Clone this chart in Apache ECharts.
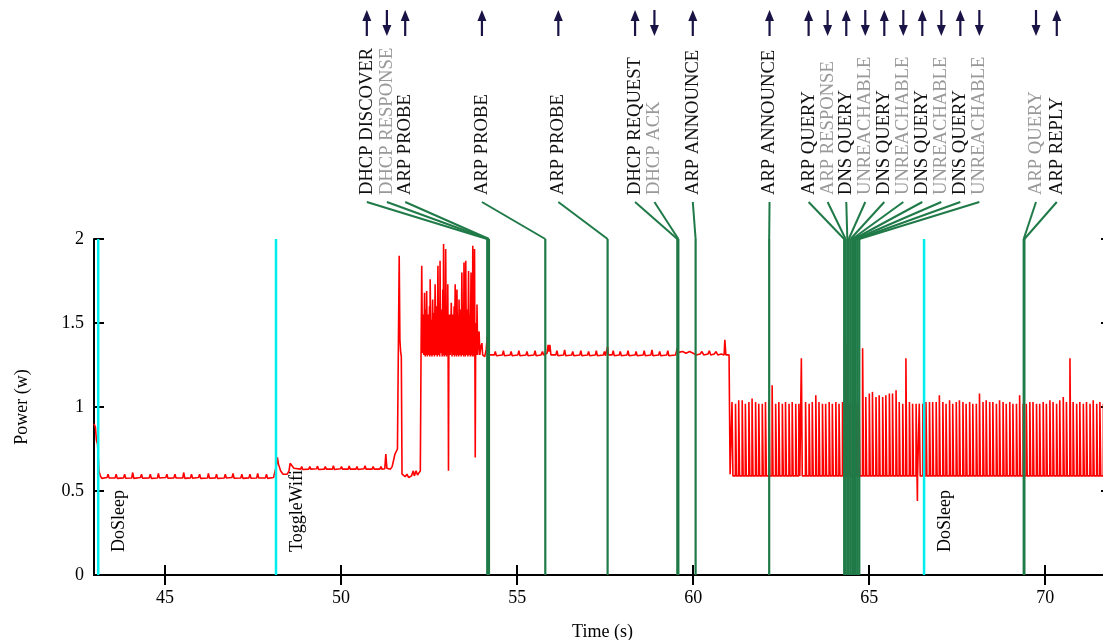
<!DOCTYPE html>
<html><head><meta charset="utf-8">
<script src="https://cdn.jsdelivr.net/npm/echarts@6/dist/echarts.min.js"></script>
<style>html,body{margin:0;padding:0;background:#fff}#c{width:1103px;height:640px}</style>
</head><body><div id="c"></div>
<script>
const xTicks = [45, 50, 55, 60, 65, 70];
const yTicks = [0, 0.5, 1, 1.5, 2];

const markerTimes = [43.10, 48.15, 66.56];
const markerNames = ['DoSleep', 'ToggleWifi', 'DoSleep'];

const eventTimes = [54.15, 54.18, 54.20, 55.80, 57.57, 59.55, 59.58, 60.07, 62.16,
  64.29, 64.33, 64.38, 64.42, 64.47, 64.52, 64.57, 64.62, 64.67, 64.72, 69.39, 69.41];
const eventNames = ['DHCP DISCOVER', 'DHCP RESPONSE', 'ARP PROBE', 'ARP PROBE', 'ARP PROBE',
  'DHCP REQUEST', 'DHCP ACK', 'ARP ANNOUNCE', 'ARP ANNOUNCE',
  'ARP QUERY', 'ARP RESPONSE', 'DNS QUERY', 'UNREACHABLE', 'DNS QUERY', 'UNREACHABLE',
  'DNS QUERY', 'UNREACHABLE', 'DNS QUERY', 'UNREACHABLE', 'ARP QUERY', 'ARP REPLY'];
const eventDirs = ['up', 'down', 'up', 'up', 'up', 'up', 'down', 'up', 'up',
  'up', 'down', 'up', 'down', 'up', 'down', 'up', 'down', 'up', 'down', 'down', 'up'];
const eventSlots = [50.73, 51.30, 51.82, 54.00, 56.17, 58.35, 58.90, 59.99, 62.17,
  63.28, 63.82, 64.35, 64.89, 65.43, 65.97, 66.51, 67.05, 67.59, 68.13, 69.74, 70.33];

const powerTrace = [
 [42.98,0.90],[43.02,0.88],[43.05,0.80],[43.08,0.78],[43.12,0.62],[43.16,0.59],[43.2,0.575],
 [43.35,0.58],[43.38,0.60],[43.41,0.577],[43.58,0.578],[43.61,0.60],[43.64,0.575],
 [43.82,0.578],[43.85,0.60],[43.88,0.576],[44.05,0.577],[44.08,0.61],[44.11,0.575],
 [44.3,0.58],[44.33,0.60],[44.36,0.576],[44.55,0.578],[44.58,0.60],[44.61,0.575],
 [44.78,0.577],[44.81,0.605],[44.84,0.577],[45.02,0.58],[45.05,0.60],[45.08,0.576],
 [45.25,0.578],[45.28,0.60],[45.31,0.577],[45.5,0.577],[45.53,0.61],[45.56,0.575],
 [45.72,0.578],[45.75,0.60],[45.78,0.576],[45.95,0.58],[45.98,0.60],[46.01,0.575],
 [46.2,0.577],[46.23,0.605],[46.26,0.576],[46.43,0.578],[46.46,0.60],[46.49,0.575],
 [46.68,0.577],[46.71,0.60],[46.74,0.577],[46.9,0.58],[46.93,0.605],[46.96,0.576],
 [47.15,0.577],[47.18,0.60],[47.21,0.575],[47.38,0.578],[47.41,0.60],[47.44,0.576],
 [47.6,0.577],[47.63,0.605],[47.66,0.577],[47.85,0.578],[47.88,0.60],[47.91,0.575],
 [48.08,0.58],[48.13,0.59],[48.17,0.66],[48.19,0.70],[48.22,0.66],[48.28,0.62],[48.35,0.60],
 [48.4,0.61],[48.47,0.60],[48.52,0.62],[48.55,0.665],[48.6,0.655],[48.66,0.635],
 [48.85,0.63],[48.88,0.645],[48.91,0.628],[49.08,0.63],[49.11,0.645],[49.14,0.63],
 [49.3,0.632],[49.33,0.648],[49.36,0.628],[49.52,0.63],[49.55,0.645],[49.58,0.63],
 [49.75,0.63],[49.78,0.65],[49.81,0.628],[49.98,0.632],[50.01,0.645],[50.04,0.63],
 [50.2,0.63],[50.23,0.648],[50.26,0.63],[50.42,0.63],[50.45,0.645],[50.48,0.628],
 [50.65,0.632],[50.68,0.65],[50.71,0.63],[50.88,0.63],[50.91,0.645],[50.94,0.63],
 [51.1,0.63],[51.13,0.645],[51.16,0.63],[51.24,0.632],[51.27,0.72],[51.3,0.635],[51.4,0.63],
 [51.45,0.645],[51.5,0.64],[51.53,0.72],[51.6,0.75],[51.63,0.76],[51.65,1.90],[51.67,1.40],
 [51.69,1.33],[51.71,1.30],[51.73,0.60],[51.77,0.59],[51.82,0.585],[51.87,0.60],[51.92,0.58],
 [52.0,0.59],[52.05,0.62],[52.08,0.59],[52.13,0.62],[52.17,0.595],[52.22,0.60],[52.25,0.62],
 [52.27,1.30],[52.29,1.84],[52.31,1.32],[52.33,1.55],[52.35,1.31],[52.37,1.68],[52.39,1.30],
 [52.41,1.58],[52.42,1.31],[52.43,1.69],[52.45,1.30],[52.47,1.55],[52.49,1.31],[52.51,1.60],
 [52.52,1.30],[52.53,1.76],[52.55,1.31],[52.57,1.52],[52.58,1.30],[52.60,1.64],[52.62,1.31],
 [52.64,1.56],[52.65,1.30],[52.67,1.73],[52.69,1.31],[52.71,1.60],[52.73,1.30],[52.75,1.84],
 [52.77,1.31],[52.79,1.62],[52.80,1.30],[52.81,1.87],[52.83,1.32],[52.85,1.58],[52.87,1.30],
 [52.89,1.70],[52.90,1.31],[52.91,1.97],[52.93,1.30],[52.95,1.62],[52.96,1.31],[52.97,1.94],
 [52.99,1.30],[53.01,1.60],[53.02,1.31],[53.03,1.73],[53.04,1.30],[53.05,0.62],[53.06,1.30],
 [53.08,1.55],[53.10,1.31],[53.13,1.62],[53.15,1.30],[53.17,1.55],[53.19,1.31],[53.21,1.60],
 [53.22,1.30],[53.24,1.73],[53.26,1.31],[53.27,1.56],[53.28,1.30],[53.29,1.70],[53.31,1.31],
 [53.33,1.55],[53.34,1.30],[53.35,1.64],[53.37,1.31],[53.39,1.58],[53.41,1.30],[53.43,1.80],
 [53.45,1.31],[53.47,1.60],[53.48,1.30],[53.49,1.86],[53.51,1.31],[53.52,1.62],[53.53,1.30],
 [53.54,1.87],[53.56,1.31],[53.58,1.58],[53.60,1.30],[53.62,1.81],[53.64,1.31],[53.66,1.55],
 [53.67,1.30],[53.69,1.80],[53.71,1.31],[53.72,1.60],[53.73,1.30],[53.74,1.96],[53.76,1.31],
 [53.77,1.62],[53.78,1.30],[53.79,1.94],[53.80,1.31],[53.81,0.70],[53.82,1.30],[53.84,1.50],
 [53.85,1.31],[53.86,1.61],[53.88,1.31],[53.90,1.40],[53.92,1.45],[53.94,1.31],[53.97,1.36],
 [54.00,1.38],[54.02,1.31],[54.05,1.32],[54.08,1.30],[54.12,1.34],[54.15,1.42],[54.17,1.31],
 [54.35,1.31],[54.38,1.33],[54.41,1.305],[54.58,1.31],[54.61,1.335],[54.64,1.305],
 [54.8,1.31],[54.83,1.33],[54.86,1.305],[55.02,1.31],[55.05,1.335],[55.08,1.305],
 [55.25,1.31],[55.28,1.33],[55.31,1.305],[55.48,1.31],[55.51,1.335],[55.54,1.305],
 [55.68,1.31],[55.72,1.33],[55.75,1.31],[55.85,1.32],[55.88,1.37],[55.9,1.33],[55.93,1.37],
 [55.96,1.31],[56.1,1.31],[56.13,1.335],[56.16,1.305],[56.32,1.31],[56.35,1.34],[56.38,1.305],
 [56.55,1.31],[56.58,1.33],[56.61,1.305],[56.78,1.31],[56.81,1.335],[56.84,1.305],
 [57.0,1.31],[57.03,1.33],[57.06,1.305],[57.22,1.31],[57.25,1.335],[57.28,1.305],
 [57.45,1.31],[57.48,1.33],[57.51,1.305],[57.55,1.31],[57.57,1.36],[57.59,1.31],
 [57.7,1.31],[57.73,1.335],[57.76,1.305],[57.9,1.31],[57.93,1.33],[57.96,1.305],
 [58.12,1.31],[58.15,1.335],[58.18,1.305],[58.35,1.31],[58.38,1.33],[58.41,1.305],
 [58.58,1.31],[58.61,1.335],[58.64,1.305],[58.8,1.31],[58.83,1.34],[58.86,1.305],
 [59.02,1.31],[59.05,1.33],[59.08,1.305],[59.25,1.31],[59.28,1.335],[59.31,1.305],
 [59.5,1.31],[59.55,1.35],[59.58,1.325],[59.7,1.33],[59.8,1.32],[59.9,1.33],[60.0,1.32],
 [60.08,1.31],[60.2,1.315],[60.25,1.33],[60.3,1.31],[60.42,1.315],[60.46,1.335],[60.5,1.31],
 [60.6,1.315],[60.65,1.33],[60.7,1.31],[60.8,1.315],[60.88,1.31],[60.9,1.40],[60.93,1.31],
 [61.02,1.31],[61.05,0.60],[61.07,0.59]
];

const pulseTimes = [
 61.10,61.20,61.29,61.39,61.48,61.58,61.67,61.77,61.86,61.96,
 62.05,62.15,62.24,62.34,62.43,62.53,62.62,62.72,62.81,62.91,
 63.00,63.07,63.19,63.29,63.38,63.48,63.57,63.67,63.76,63.86,
 63.95,64.05,64.14,64.24,64.33,64.43,64.52,64.62,64.71,64.81,
 64.90,65.00,65.09,65.19,65.28,65.38,65.47,65.57,65.66,65.76,
 65.85,65.95,66.04,66.14,66.23,66.33,66.42,66.52,66.61,66.71,
 66.80,66.90,66.99,67.09,67.18,67.28,67.37,67.47,67.56,67.66,
 67.75,67.85,67.94,68.04,68.13,68.23,68.32,68.42,68.51,68.61,
 68.70,68.80,68.89,68.99,69.08,69.18,69.27,69.37,69.46,69.56,
 69.65,69.75,69.84,69.94,70.03,70.13,70.22,70.32,70.41,70.51,
 70.60,70.70,70.79,70.89,70.98,71.08,71.17,71.27,71.36,71.46,
 71.55,71.65,71.74,71.84];
const pulsePeaks = [
 1.03,1.02,1.04,1.04,1.02,1.03,1.05,1.03,1.02,1.02,
 1.03,1.04,1.13,1.02,1.03,1.02,1.03,1.02,1.03,1.02,
 1.02,1.29,1.03,1.02,1.03,1.07,1.03,1.02,1.02,1.03,
 1.02,1.03,1.02,1.03,1.38,1.02,1.03,1.02,1.03,1.35,
 1.06,1.08,1.09,1.06,1.07,1.06,1.07,1.08,1.08,1.10,
 1.03,1.02,1.29,1.03,1.02,1.02,1.02,1.02,1.03,1.03,
 1.03,1.03,1.07,1.03,1.02,1.04,1.02,1.03,1.04,1.03,
 1.02,1.03,1.02,1.02,1.08,1.03,1.04,1.03,1.03,1.02,
 1.04,1.03,1.02,1.03,1.02,1.02,1.07,1.02,1.02,1.03,
 1.03,1.02,1.02,1.03,1.02,1.04,1.03,1.02,1.04,1.06,
 1.03,1.29,1.03,1.02,1.03,1.02,1.03,1.02,1.04,1.02,
 1.03,1.02,1.03,1.02];
const pulseBase = 0.59;
const dips = [[66.37, 0.44]];

// build line data from the read values
const lineData = powerTrace.slice();
pulseTimes.forEach((t, i) => {
  const p = pulsePeaks[i];
  lineData.push([t, pulseBase], [t + 0.004, p], [t + 0.026, p - 0.005], [t + 0.03, pulseBase]);
});
dips.forEach(([t, v]) => lineData.push([t - 0.006, pulseBase], [t, v], [t + 0.006, pulseBase]));
lineData.sort((a, b) => a[0] - b[0]);

const FONT = "'Liberation Serif', 'DejaVu Serif', serif";
const GREEN = '#1f7a48';
const CYAN = '#00eeee';
const ARROW = '#1a1446';

const chart = echarts.init(document.getElementById('c'), null, {renderer: 'canvas'});

const axisLine = {show: true, lineStyle: {color: '#000', width: 2}};
const tick = {show: true, inside: true, length: 10, lineStyle: {color: '#000', width: 2}};

chart.setOption({
  animation: false,
  backgroundColor: '#fff',
  grid: {left: 94, right: -8, top: 239, bottom: 65, containLabel: false, outerBoundsMode: 'none'},
  xAxis: [
    {type: 'value', min: 42.98, max: 71.87, position: 'bottom',
     axisLine, axisTick: Object.assign({customValues: xTicks}, tick),
     axisLabel: {customValues: xTicks, color: '#000', fontFamily: FONT, fontSize: 18, margin: 14},
     splitLine: {show: false},
     name: 'Time (s)', nameLocation: 'middle', nameGap: 48,
     nameTextStyle: {color: '#000', fontFamily: FONT, fontSize: 18}},
    {type: 'value', min: 42.98, max: 71.87, position: 'top',
     axisLine, axisTick: Object.assign({customValues: xTicks}, tick),
     axisLabel: {show: false}, splitLine: {show: false}}
  ],
  yAxis: [
    {type: 'value', min: 0, max: 2, interval: 0.5, position: 'left',
     axisLine, axisTick: tick,
     axisLabel: {color: '#000', fontFamily: FONT, fontSize: 18, margin: 10},
     splitLine: {show: false},
     name: 'Power (w)', nameLocation: 'middle', nameGap: 63,
     nameTextStyle: {color: '#000', fontFamily: FONT, fontSize: 18}},
    {type: 'value', min: 0, max: 2, interval: 0.5, position: 'right',
     axisLine, axisTick: tick, axisLabel: {show: false}, splitLine: {show: false}}
  ],
  series: [
    {type: 'line', data: lineData, showSymbol: false, symbol: 'none', sampling: null,
     lineStyle: {color: '#ff0000', width: 1.6}, z: 2, silent: true},
    {type: 'custom', z: 4, clip: false, silent: true,
     data: markerTimes.map(t => [t]),
     encode: {x: 0},
     renderItem: (params, api) => {
       const i = params.dataIndex;
       const t = api.value(0);
       const top = api.coord([t, 2]);
       const bot = api.coord([t, 0]);
       return {type: 'group', children: [
         {type: 'line', shape: {x1: top[0], y1: top[1], x2: bot[0], y2: bot[1]},
          style: {stroke: CYAN, lineWidth: 2.5}},
         {type: 'text', x: top[0] + 21, y: bot[1] - 23, rotation: Math.PI / 2,
          style: {text: markerNames[i], fill: '#000', font: '18px ' + FONT,
                  align: 'left', verticalAlign: 'middle'}}
       ]};
     }},
    {type: 'custom', z: 5, clip: false, silent: true,
     data: eventTimes.map((t, i) => [t, eventSlots[i]]),
     encode: {x: 0},
     renderItem: (params, api) => {
       const i = params.dataIndex;
       const t = api.value(0);
       const slot = api.value(1);
       const top = api.coord([t, 2]);
       const bot = api.coord([t, 0]);
       const lab = api.coord([slot, 2]);
       const lx = lab[0];
       const ly = top[1] - 37;
       const up = eventDirs[i] === 'up';
       const aTop = top[1] - 229, aBot = top[1] - 203;
       const tipY = up ? aTop : aBot;
       const baseY = up ? aTop + 11 : aBot - 11;
       return {type: 'group', children: [
         {type: 'line', shape: {x1: top[0], y1: top[1], x2: bot[0], y2: bot[1]},
          style: {stroke: GREEN, lineWidth: 2.2}},
         {type: 'line', shape: {x1: top[0], y1: top[1], x2: lx, y2: ly},
          style: {stroke: GREEN, lineWidth: 2}},
         {type: 'text', x: lx, y: top[1] - 44, rotation: Math.PI / 2,
          style: {text: eventNames[i], fill: up ? '#111' : '#999', font: '18.6px ' + FONT,
                  align: 'left', verticalAlign: 'middle'}},
         {type: 'line', shape: {x1: lx, y1: up ? aBot : aTop, x2: lx, y2: baseY},
          style: {stroke: ARROW, lineWidth: 2.2}},
         {type: 'polygon', shape: {points: [[lx, tipY], [lx - 4.5, baseY], [lx + 4.5, baseY]]},
          style: {fill: ARROW}}
       ]};
     }}
  ]
});
</script></body></html>
